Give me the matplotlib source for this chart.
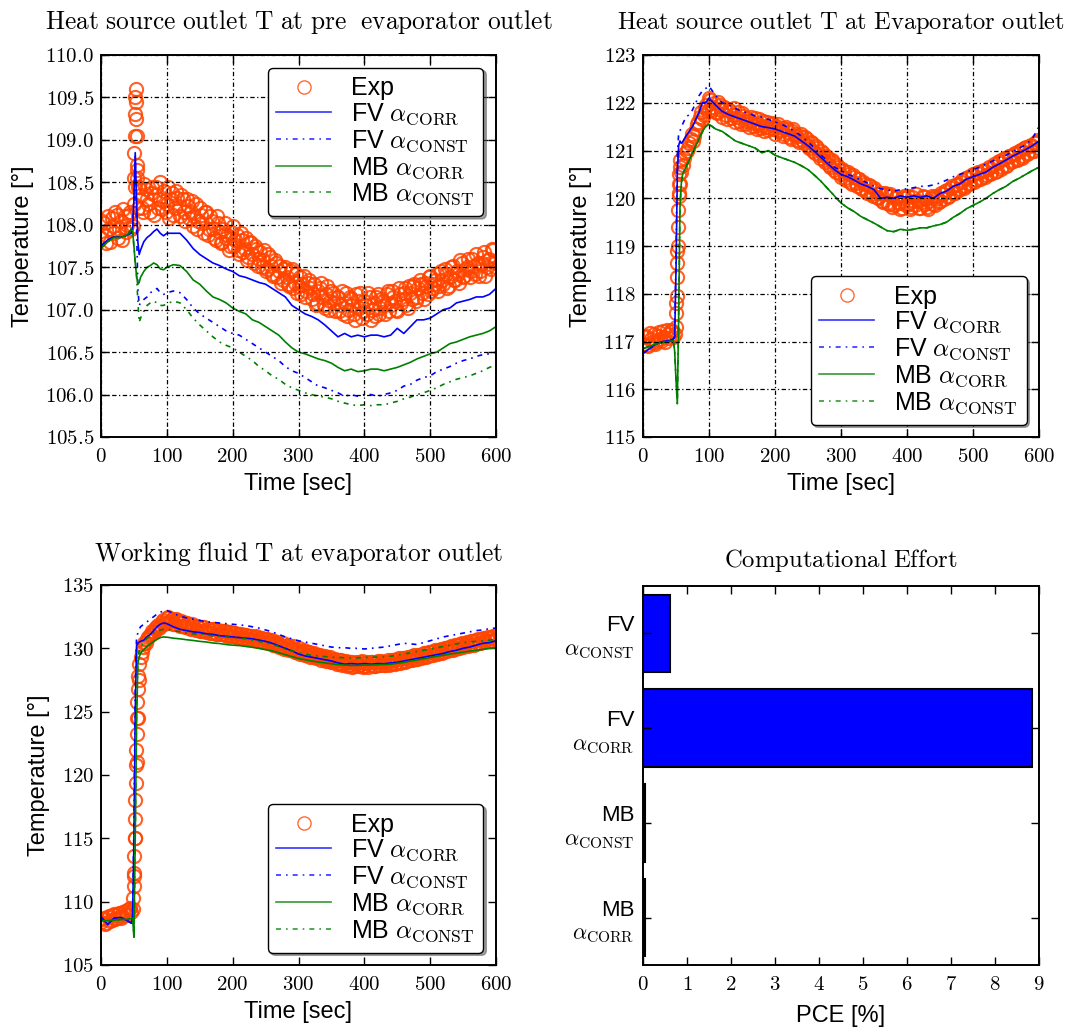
import numpy as np
import matplotlib
matplotlib.use('Agg')
import matplotlib.pyplot as plt
from matplotlib.ticker import FuncFormatter, MultipleLocator

plt.rcParams['mathtext.fontset'] = 'cm'
plt.rcParams['font.family'] = ['Liberation Sans', 'DejaVu Sans']

# ---------------- data ----------------
t_exp_a = np.arange(0, 601, 4)
t_exp_b = np.arange(2, 600, 4)
t_model = [0, 10, 20, 30, 40, 46, 48, 50, 52, 54, 56, 58, 60, 65, 70, 75, 80, 85, 90, 95] + list(range(100, 601, 10))

# Panel 1: heat source outlet T at pre-evaporator outlet
exp1_a = [107.85, 108.02, 107.78, 107.95, 108.08, 107.90, 108.12, 107.95, 107.82, 108.10,
          108.00, 108.15, 107.98, 108.45, 108.20, 108.35, 108.15, 108.42, 108.25, 108.38,
          108.12, 108.45, 108.30, 108.18, 108.40, 108.25, 108.08, 108.38, 108.20, 108.32,
          108.10, 108.30, 108.05, 108.22, 108.15, 107.98, 108.25, 108.05, 108.12, 107.90,
          108.15, 107.95, 108.05, 107.85, 108.10, 107.92, 107.80, 108.02, 107.88, 107.75,
          107.98, 107.82, 107.70, 107.90, 107.68, 107.85, 107.62, 107.78, 107.55, 107.72,
          107.60, 107.50, 107.70, 107.48, 107.62, 107.42, 107.58, 107.38, 107.52, 107.35,
          107.50, 107.30, 107.45, 107.25, 107.42, 107.28, 107.18, 107.40, 107.22, 107.35,
          107.12, 107.30, 107.08, 107.25, 107.15, 107.02, 107.28, 107.10, 107.20, 106.98,
          107.15, 107.05, 106.95, 107.20, 107.00, 107.12, 106.95, 107.18, 107.02, 106.90,
          107.10, 106.95, 107.15, 107.00, 106.92, 107.18, 107.02, 107.10, 106.95, 107.22,
          107.05, 107.15, 107.00, 107.25, 107.08, 107.20, 107.05, 107.28, 107.12, 107.30,
          107.15, 107.35, 107.20, 107.32, 107.18, 107.40, 107.25, 107.35, 107.22, 107.45,
          107.30, 107.42, 107.28, 107.50, 107.35, 107.45, 107.32, 107.55, 107.40, 107.50,
          107.38, 107.60, 107.42, 107.55, 107.45, 107.62, 107.40, 107.58, 107.48, 107.70,
          107.50]
exp1_b = [108.05, 107.88, 108.10, 107.80, 107.98, 108.15, 107.85, 108.05, 108.18, 107.92,
          108.12, 107.95, 108.25, 108.55, 108.45, 108.20, 108.48, 108.30, 108.15, 108.45,
          108.35, 108.20, 108.50, 108.28, 108.15, 108.45, 108.30, 108.12, 108.40, 108.22,
          108.35, 108.15, 108.30, 108.08, 108.28, 108.10, 107.95, 108.20, 108.02, 108.15,
          107.88, 108.10, 107.95, 107.82, 108.02, 107.78, 107.95, 107.85, 107.70, 107.92,
          107.75, 107.88, 107.65, 107.82, 107.72, 107.58, 107.80, 107.65, 107.75, 107.52,
          107.68, 107.58, 107.45, 107.65, 107.52, 107.40, 107.55, 107.45, 107.32, 107.48,
          107.38, 107.28, 107.48, 107.32, 107.20, 107.38, 107.30, 107.15, 107.32, 107.25,
          107.18, 107.05, 107.22, 107.32, 107.05, 107.18, 107.00, 107.22, 107.08, 107.15,
          106.98, 107.22, 107.08, 106.92, 107.15, 107.05, 106.88, 107.10, 107.20, 106.98,
          107.05, 107.20, 106.88, 107.08, 107.15, 106.95, 107.12, 107.05, 107.18, 106.98,
          107.22, 107.10, 106.98, 107.18, 107.12, 107.25, 107.02, 107.20, 107.28, 107.10,
          107.25, 107.30, 107.12, 107.28, 107.38, 107.22, 107.30, 107.42, 107.28, 107.35,
          107.48, 107.25, 107.38, 107.52, 107.35, 107.42, 107.58, 107.38, 107.48, 107.60,
          107.45, 107.52, 107.65, 107.40, 107.55, 107.68, 107.50, 107.60, 107.72, 107.55]
exp1_spike_t = [50, 50.5, 51, 51.5, 52, 52.5, 53, 53.5, 54, 54.5, 55, 56]
exp1_spike_v = [108.55, 108.85, 109.05, 109.30, 109.50, 109.60, 109.45, 109.25, 109.05, 108.70, 108.65, 108.45]

fv_corr1 = [107.75, 107.82, 107.86, 107.85, 107.88, 107.90, 107.95, 108.30, 108.85, 108.30,
            107.80, 107.65, 107.70, 107.80, 107.85, 107.88, 107.92, 107.95, 107.90, 107.87,
            107.90, 107.90, 107.90, 107.82, 107.72, 107.65, 107.60, 107.55, 107.52, 107.48,
            107.45, 107.40, 107.38, 107.35, 107.32, 107.30, 107.25, 107.20, 107.15, 107.05,
            107.00, 106.95, 106.92, 106.88, 106.82, 106.75, 106.68, 106.72, 106.68, 106.70,
            106.68, 106.70, 106.70, 106.68, 106.70, 106.78, 106.72, 106.80, 106.88, 106.88,
            106.90, 106.95, 107.00, 107.02, 107.08, 107.10, 107.12, 107.15, 107.15, 107.18,
            107.25]
fv_const1 = [107.75, 107.82, 107.86, 107.85, 107.88, 107.90, 107.95, 108.30, 108.80, 108.00,
             107.25, 107.05, 107.08, 107.12, 107.15, 107.20, 107.22, 107.25, 107.20, 107.18,
             107.20, 107.22, 107.20, 107.12, 107.02, 106.95, 106.90, 106.85, 106.80, 106.75,
             106.72, 106.70, 106.65, 106.60, 106.55, 106.50, 106.45, 106.40, 106.33, 106.28,
             106.25, 106.20, 106.15, 106.10, 106.08, 106.05, 106.02, 105.98, 106.00, 105.98,
             106.00, 106.00, 105.98, 106.00, 106.02, 106.05, 106.10, 106.12, 106.17, 106.20,
             106.22, 106.27, 106.30, 106.33, 106.37, 106.40, 106.42, 106.45, 106.47, 106.48,
             106.50]
mb_corr1 = [107.72, 107.80, 107.85, 107.85, 107.88, 107.95, 107.92, 107.75, 107.55, 107.40,
            107.30, 107.32, 107.38, 107.45, 107.50, 107.52, 107.55, 107.53, 107.48, 107.47,
            107.50, 107.53, 107.52, 107.45, 107.35, 107.30, 107.22, 107.15, 107.12, 107.08,
            107.02, 106.98, 106.95, 106.88, 106.85, 106.80, 106.75, 106.70, 106.62, 106.55,
            106.50, 106.48, 106.45, 106.42, 106.40, 106.37, 106.32, 106.28, 106.30, 106.27,
            106.28, 106.30, 106.30, 106.28, 106.30, 106.32, 106.35, 106.38, 106.42, 106.45,
            106.48, 106.50, 106.55, 106.60, 106.62, 106.65, 106.68, 106.70, 106.72, 106.75,
            106.80]
mb_const1 = [107.72, 107.80, 107.85, 107.85, 107.88, 107.95, 107.92, 107.75, 107.55, 107.40,
             107.10, 106.85, 106.90, 106.98, 107.05, 107.08, 107.10, 107.08, 107.05, 107.05,
             107.07, 107.10, 107.08, 107.00, 106.90, 106.82, 106.75, 106.68, 106.62, 106.58,
             106.55, 106.50, 106.45, 106.40, 106.33, 106.28, 106.22, 106.18, 106.12, 106.08,
             106.05, 106.02, 106.00, 105.98, 105.97, 105.95, 105.92, 105.90, 105.88, 105.87,
             105.88, 105.87, 105.88, 105.88, 105.90, 105.92, 105.95, 105.97, 106.00, 106.02,
             106.05, 106.08, 106.12, 106.15, 106.18, 106.20, 106.22, 106.25, 106.28, 106.32,
             106.35]

# Panel 2: heat source outlet T at evaporator outlet
exp2_a = [116.95, 117.12, 116.90, 117.05, 117.15, 116.98, 117.20, 117.02, 117.10, 117.25,
          117.08, 117.22, 117.15, 118.90, 120.30, 120.70, 120.95, 121.05, 121.25, 121.20,
          121.45, 121.60, 121.80, 121.75, 121.95, 122.10, 121.85, 122.00, 121.78, 121.95,
          121.70, 121.88, 121.65, 121.82, 121.75, 121.60, 121.80, 121.55, 121.72, 121.62,
          121.50, 121.70, 121.58, 121.45, 121.65, 121.52, 121.40, 121.60, 121.48, 121.58,
          121.35, 121.55, 121.42, 121.30, 121.50, 121.38, 121.25, 121.45, 121.30, 121.18,
          121.35, 121.15, 121.25, 121.05, 121.15, 120.95, 121.05, 120.85, 120.95, 120.75,
          120.85, 120.65, 120.75, 120.55, 120.65, 120.45, 120.58, 120.38, 120.50, 120.30,
          120.45, 120.25, 120.40, 120.20, 120.30, 120.12, 120.25, 120.05, 120.18, 120.00,
          120.10, 119.92, 120.08, 119.88, 120.05, 119.85, 120.02, 119.90, 119.80, 120.05,
          119.88, 119.78, 120.02, 119.85, 119.95, 119.80, 120.05, 119.88, 119.78, 120.00,
          119.88, 120.05, 119.92, 120.12, 119.98, 120.18, 120.05, 120.25, 120.12, 120.30,
          120.20, 120.38, 120.25, 120.45, 120.32, 120.50, 120.38, 120.55, 120.42, 120.60,
          120.48, 120.65, 120.52, 120.72, 120.58, 120.78, 120.65, 120.85, 120.70, 120.88,
          120.78, 120.95, 120.82, 121.02, 120.88, 121.08, 120.95, 121.12, 121.00, 121.18,
          121.05]
exp2_b = [117.10, 116.92, 117.18, 117.00, 116.95, 117.12, 117.05, 117.22, 116.98, 117.15,
          117.25, 117.10, 117.80, 120.10, 120.55, 120.85, 121.00, 121.15, 121.35, 121.30,
          121.55, 121.70, 121.65, 121.90, 121.82, 122.05, 121.92, 121.80, 122.02, 121.85,
          121.92, 121.75, 121.85, 121.68, 121.88, 121.70, 121.62, 121.78, 121.55, 121.68,
          121.62, 121.52, 121.68, 121.55, 121.48, 121.62, 121.50, 121.42, 121.55, 121.45,
          121.52, 121.40, 121.48, 121.35, 121.45, 121.28, 121.40, 121.35, 121.22, 121.30,
          121.20, 121.28, 121.10, 121.18, 121.00, 121.10, 120.90, 121.00, 120.80, 120.88,
          120.70, 120.80, 120.60, 120.70, 120.50, 120.62, 120.42, 120.55, 120.35, 120.48,
          120.32, 120.40, 120.22, 120.35, 120.15, 120.28, 120.08, 120.22, 120.02, 120.12,
          119.95, 120.12, 119.90, 120.08, 119.82, 120.00, 119.92, 119.78, 120.00, 119.85,
          120.05, 119.82, 119.95, 120.08, 119.80, 119.92, 120.02, 119.82, 119.95, 120.05,
          119.85, 120.00, 119.95, 120.08, 120.15, 120.02, 120.22, 120.10, 120.28, 120.18,
          120.35, 120.22, 120.42, 120.30, 120.48, 120.35, 120.52, 120.40, 120.58, 120.45,
          120.62, 120.50, 120.68, 120.55, 120.75, 120.62, 120.82, 120.68, 120.88, 120.75,
          120.92, 120.80, 120.98, 120.85, 121.05, 120.92, 121.10, 120.98, 121.15, 121.22]
exp2_ramp_t = [50, 50.5, 51, 51.5, 52, 52.5, 53, 53.5, 54, 54.5, 55, 55.5, 56]
exp2_ramp_v = [117.30, 117.60, 117.95, 118.35, 118.65, 119.00, 119.40, 119.75, 120.05, 120.30, 120.50, 120.65, 120.80]

fv_corr2 = [116.75, 116.85, 116.95, 117.00, 117.02, 117.05, 117.10, 118.50, 120.50, 121.10,
            121.20, 121.15, 121.18, 121.30, 121.40, 121.50, 121.65, 121.80, 122.00, 122.00,
            122.10, 121.95, 121.82, 121.75, 121.70, 121.65, 121.60, 121.55, 121.50, 121.48,
            121.45, 121.40, 121.35, 121.30, 121.20, 121.10, 120.98, 120.85, 120.72, 120.60,
            120.50, 120.45, 120.38, 120.30, 120.25, 120.18, 120.00, 120.02, 120.00, 120.05,
            120.02, 120.05, 120.02, 120.05, 120.00, 120.10, 120.15, 120.25, 120.30, 120.40,
            120.45, 120.50, 120.55, 120.65, 120.72, 120.80, 120.88, 120.95, 121.02, 121.10,
            121.20]
fv_const2 = [116.75, 116.85, 116.95, 117.00, 117.02, 117.05, 117.10, 118.80, 120.90, 121.35,
             121.40, 121.50, 121.55, 121.70, 121.75, 121.85, 122.00, 122.15, 122.25, 122.30,
             122.35, 122.15, 122.00, 121.95, 121.88, 121.82, 121.78, 121.72, 121.70, 121.65,
             121.60, 121.55, 121.48, 121.40, 121.30, 121.18, 121.05, 120.90, 120.78, 120.65,
             120.58, 120.50, 120.45, 120.38, 120.32, 120.25, 120.20, 120.18, 120.15, 120.18,
             120.20, 120.22, 120.25, 120.25, 120.28, 120.32, 120.38, 120.45, 120.50, 120.55,
             120.60, 120.65, 120.72, 120.78, 120.85, 120.90, 120.98, 121.05, 121.12, 121.25,
             121.50]
mb_corr2 = [116.85, 116.90, 116.95, 116.98, 117.00, 117.02, 116.80, 116.20, 115.70, 117.50,
            119.80, 120.30, 120.50, 120.65, 120.80, 120.95, 121.10, 121.25, 121.40, 121.50,
            121.55, 121.45, 121.40, 121.30, 121.20, 121.15, 121.10, 121.05, 120.95, 121.00,
            120.90, 120.85, 120.80, 120.75, 120.68, 120.60, 120.48, 120.35, 120.20, 120.05,
            119.90, 119.80, 119.72, 119.62, 119.55, 119.48, 119.40, 119.32, 119.30, 119.35,
            119.33, 119.35, 119.38, 119.38, 119.42, 119.45, 119.50, 119.60, 119.68, 119.78,
            119.85, 119.92, 120.00, 120.10, 120.18, 120.25, 120.35, 120.42, 120.50, 120.58,
            120.65]
mb_const2 = list(mb_corr2)  # lies on top of MB alpha_CORR in this panel

# Panel 3: working fluid T at evaporator outlet
exp3_a = [108.40, 108.75, 108.30, 108.85, 108.55, 109.00, 108.70, 109.10, 108.85, 109.25,
          109.05, 109.50, 109.40, 115.00, 124.50, 129.30, 130.10, 130.40, 130.90, 131.10,
          131.30, 131.70, 131.60, 132.10, 131.90, 132.40, 132.10, 132.35, 131.95, 132.20,
          131.80, 132.05, 131.65, 131.95, 131.55, 131.80, 131.45, 131.70, 131.40, 131.65,
          131.30, 131.55, 131.20, 131.50, 131.15, 131.40, 131.10, 131.35, 131.00, 131.30,
          130.95, 131.25, 130.85, 131.15, 130.80, 131.05, 130.75, 131.00, 130.65, 130.95,
          130.60, 130.85, 130.50, 130.75, 130.40, 130.65, 130.30, 130.50, 130.15, 130.40,
          130.05, 130.30, 129.90, 130.15, 129.75, 130.00, 129.65, 129.85, 129.50, 129.75,
          129.40, 129.65, 129.30, 129.50, 129.20, 129.40, 129.05, 129.30, 128.95, 129.15,
          128.85, 129.10, 128.75, 129.00, 128.65, 128.95, 128.60, 128.90, 128.65, 129.00,
          128.60, 128.95, 128.65, 128.90, 128.60, 129.00, 128.70, 128.95, 128.65, 129.05,
          128.75, 129.10, 128.85, 129.20, 128.90, 129.25, 129.00, 129.35, 129.10, 129.45,
          129.15, 129.50, 129.30, 129.65, 129.40, 129.75, 129.50, 129.85, 129.60, 129.95,
          129.70, 130.05, 129.85, 130.15, 129.95, 130.30, 130.05, 130.40, 130.15, 130.50,
          130.25, 130.60, 130.35, 130.70, 130.45, 130.80, 130.55, 130.90, 130.60, 130.95,
          130.75]
exp3_b = [108.65, 108.25, 108.80, 108.45, 108.95, 108.60, 109.05, 108.75, 109.20, 108.95,
          109.45, 109.20, 112.00, 121.00, 127.50, 129.70, 130.40, 130.70, 131.05, 131.35,
          131.55, 131.85, 131.75, 132.25, 132.00, 132.45, 132.20, 131.90, 132.30, 132.00,
          132.15, 131.75, 132.00, 131.60, 131.90, 131.50, 131.75, 131.40, 131.70, 131.35,
          131.55, 131.25, 131.50, 131.15, 131.45, 131.10, 131.40, 131.05, 131.30, 130.95,
          131.20, 130.90, 131.10, 130.85, 131.05, 130.75, 131.00, 130.70, 130.90, 130.60,
          130.80, 130.50, 130.70, 130.40, 130.55, 130.25, 130.45, 130.10, 130.30, 129.95,
          130.20, 129.85, 130.05, 129.70, 129.90, 129.55, 129.80, 129.45, 129.70, 129.35,
          129.55, 129.25, 129.45, 129.10, 129.35, 129.00, 129.25, 128.90, 129.10, 128.80,
          129.05, 128.70, 128.95, 128.60, 128.90, 128.55, 128.85, 128.60, 128.95, 128.55,
          128.85, 128.55, 128.95, 128.60, 128.90, 128.65, 129.00, 128.65, 128.95, 128.70,
          129.05, 128.80, 129.15, 128.85, 129.20, 128.95, 129.30, 129.05, 129.40, 129.15,
          129.45, 129.25, 129.60, 129.35, 129.70, 129.45, 129.80, 129.55, 129.90, 129.65,
          130.00, 129.80, 130.10, 129.90, 130.25, 130.00, 130.35, 130.10, 130.45, 130.20,
          130.55, 130.30, 130.65, 130.40, 130.75, 130.50, 130.85, 130.55, 130.90, 130.70]
exp3_ramp_t = [49, 49.5, 50, 50.5, 51, 51.5, 52, 52.5, 53, 53.5, 54, 54.5, 55, 55.5, 56, 57]
exp3_ramp_v = [110.3, 111.2, 112.3, 113.6, 115.0, 116.5, 118.0, 119.4, 120.8, 122.0, 123.2, 124.5, 125.8, 126.8, 127.8, 128.8]

fv_corr3 = [108.80, 108.20, 108.70, 108.75, 108.50, 108.30, 108.80, 115.00, 125.00, 130.20,
            130.40, 130.50, 130.55, 130.65, 130.90, 131.10, 131.40, 131.70, 131.90, 132.00,
            131.95, 131.70, 131.50, 131.40, 131.30, 131.25, 131.15, 131.10, 131.00, 130.95,
            130.90, 130.85, 130.80, 130.75, 130.65, 130.55, 130.40, 130.20, 130.00, 129.80,
            129.55, 129.40, 129.30, 129.20, 129.10, 129.00, 128.85, 128.75, 128.80, 128.75,
            128.80, 128.75, 128.80, 128.78, 128.85, 128.90, 129.00, 129.10, 129.20, 129.30,
            129.40, 129.50, 129.60, 129.75, 129.85, 130.00, 130.10, 130.25, 130.40, 130.45,
            130.60]
fv_const3 = [108.80, 108.20, 108.70, 108.75, 108.50, 108.30, 108.80, 116.00, 127.00, 130.90,
             131.20, 131.50, 131.70, 131.90, 132.10, 132.30, 132.50, 132.70, 132.85, 132.95,
             133.00, 132.75, 132.55, 132.40, 132.30, 132.20, 132.10, 132.05, 132.00, 131.95,
             131.90, 131.85, 131.80, 131.70, 131.60, 131.45, 131.30, 131.10, 130.90, 130.75,
             130.60, 130.50, 130.40, 130.30, 130.20, 130.10, 130.05, 130.05, 130.00, 130.00,
             129.95, 130.00, 130.05, 130.10, 130.20, 130.30, 130.40, 130.35, 130.30, 130.45,
             130.60, 130.75, 130.90, 131.00, 131.10, 131.20, 131.30, 131.40, 131.45, 131.55,
             131.60]
mb_corr3 = [108.50, 108.50, 108.55, 108.60, 108.60, 108.70, 108.70, 107.20, 115.00, 124.00,
            128.80, 129.30, 129.60, 129.90, 130.15, 130.35, 130.55, 130.70, 130.85, 130.90,
            130.88, 130.80, 130.75, 130.68, 130.62, 130.55, 130.50, 130.42, 130.38, 130.30,
            130.25, 130.22, 130.15, 130.08, 130.00, 129.90, 129.80, 129.65, 129.50, 129.35,
            129.20, 129.10, 129.00, 128.92, 128.85, 128.78, 128.72, 128.68, 128.65, 128.65,
            128.68, 128.68, 128.70, 128.72, 128.75, 128.82, 128.90, 129.00, 129.08, 129.18,
            129.28, 129.38, 129.45, 129.55, 129.62, 129.70, 129.78, 129.85, 129.92, 130.00,
            130.05]
mb_const3 = [108.50, 108.50, 108.55, 108.60, 108.60, 108.70, 108.70, 107.20, 115.50, 125.00,
             129.20, 129.80, 130.10, 130.50, 130.80, 131.00, 131.20, 131.35, 131.45, 131.50,
             131.50, 131.40, 131.30, 131.20, 131.15, 131.10, 131.05, 131.00, 130.95, 130.90,
             130.85, 130.80, 130.75, 130.65, 130.55, 130.45, 130.30, 130.15, 129.95, 129.80,
             129.65, 129.55, 129.45, 129.40, 129.35, 129.30, 129.28, 129.25, 129.25, 129.25,
             129.28, 129.30, 129.30, 129.32, 129.38, 129.45, 129.55, 129.65, 129.75, 129.85,
             129.95, 130.05, 130.15, 130.25, 130.35, 130.45, 130.50, 130.55, 130.60, 130.65,
             130.70]

# Panel 4: computational effort (bottom to top)
pce_labels = ['MB\n$\\alpha_{\\rm CORR}$', 'MB\n$\\alpha_{\\rm CONST}$',
              'FV\n$\\alpha_{\\rm CORR}$', 'FV\n$\\alpha_{\\rm CONST}$']
pce_values = [0.04, 0.04, 8.85, 0.62]

legend_labels = ['Exp', r'FV $\alpha_{\rm CORR}$', r'FV $\alpha_{\rm CONST}$',
                 r'MB $\alpha_{\rm CORR}$', r'MB $\alpha_{\rm CONST}$']

# ---------------- styling ----------------
EXP_COLOR = '#FF4500'
BLUE = '#0000FF'
GREEN = '#008000'
TICK_FS = 15
LABEL_FS = 17
LEG_FS = 18
DASHDOT = (0, (3, 3, 1, 3))

fig = plt.figure(figsize=(10.77, 10.27), dpi=100)
W, H = 1077.0, 1027.0


def add_ax(left, top, right, bottom):
    return fig.add_axes([left / W, 1 - bottom / H, (right - left) / W, (bottom - top) / H])


def mt_fmt(fmt):
    return FuncFormatter(lambda v, p: '$' + format(v, fmt) + '$')


def style(ax, grid=True):
    ax.tick_params(direction='in', top=True, right=True, length=6, width=1,
                   labelsize=TICK_FS)
    ax.tick_params(axis='x', pad=7)
    ax.tick_params(axis='y', pad=5)
    for s in ax.spines.values():
        s.set_linewidth(1.4)
    if grid:
        ax.grid(True, color='black', linestyle=(0, (3.5, 2, 1, 2)), linewidth=0.9)
        ax.set_axisbelow(False)


def ts_panel(ax, exp_a, exp_b, ex_t, ex_v, fc, fk, mc, mk, ylim, ystep, yfmt, title,
             title_fs, legloc, grid, tpad):
    ax.plot(list(t_exp_a) + list(t_exp_b) + ex_t, exp_a + exp_b + ex_v, 'o', mfc='none',
            mec=EXP_COLOR, mew=1.5, ms=9.5, alpha=0.85, linestyle='none',
            label=legend_labels[0])
    ax.plot(t_model, fc, '-', color=BLUE, lw=1.2, label=legend_labels[1])
    ax.plot(t_model, fk, linestyle=DASHDOT, color=BLUE, lw=1.2, label=legend_labels[2])
    ax.plot(t_model, mc, '-', color=GREEN, lw=1.2, label=legend_labels[3])
    ax.plot(t_model, mk, linestyle=DASHDOT, color=GREEN, lw=1.2, label=legend_labels[4])
    ax.set_xlim(0, 600)
    ax.set_ylim(*ylim)
    ax.xaxis.set_major_locator(MultipleLocator(100))
    ax.yaxis.set_major_locator(MultipleLocator(ystep))
    ax.xaxis.set_major_formatter(mt_fmt('.0f'))
    ax.yaxis.set_major_formatter(mt_fmt(yfmt))
    ax.set_xlabel('Time [sec]', fontsize=LABEL_FS, labelpad=5)
    ax.set_ylabel('Temperature [°]', fontsize=LABEL_FS, labelpad=8)
    ax.set_title(title, fontsize=title_fs, pad=tpad)
    style(ax, grid)
    leg = ax.legend(loc=legloc, fontsize=LEG_FS, numpoints=1, fancybox=True, shadow=True,
                    framealpha=1, edgecolor='black', labelspacing=0.05, handlelength=2.2,
                    handletextpad=0.8, borderpad=0.35)
    leg.set_zorder(5)
    for lh in leg.legend_handles:
        lh.set_alpha(0.8)
    leg.legend_handles[0].set_markeredgewidth(1.0)
    leg.get_frame().set_linewidth(1.0)


ax1 = add_ax(101, 55, 496, 437)
ts_panel(ax1, exp1_a, exp1_b, exp1_spike_t, exp1_spike_v, fv_corr1, fv_const1, mb_corr1,
         mb_const1, (105.5, 110.0), 0.5, '.1f',
         r'$\mathrm{Heat\ source\ outlet\ T\ at\ pre\ \ evaporator\ outlet}$', 18.3,
         'upper right', True, 19)

ax2 = add_ax(643, 55, 1039, 437)
ts_panel(ax2, exp2_a, exp2_b, exp2_ramp_t, exp2_ramp_v, fv_corr2, fv_const2, mb_corr2,
         mb_const2, (115, 123), 1, '.0f',
         r'$\mathrm{Heat\ source\ outlet\ T\ at\ Evaporator\ outlet}$', 17.7,
         'lower right', True, 19)

ax3 = add_ax(101, 585, 496, 965)
ts_panel(ax3, exp3_a, exp3_b, exp3_ramp_t, exp3_ramp_v, fv_corr3, fv_const3, mb_corr3,
         mb_const3, (105, 135), 5, '.0f',
         r'$\mathrm{Working\ fluid\ T\ at\ evaporator\ outlet}$', 18.3,
         'lower right', False, 17)

ax4 = add_ax(643, 586, 1039, 965)
ypos = np.arange(len(pce_values))
ax4.barh(ypos, pce_values, height=0.82, color=BLUE, edgecolor='black', linewidth=1.5)
ax4.set_xlim(0, 9)
ax4.set_ylim(-0.5, 3.5)
ax4.xaxis.set_major_locator(MultipleLocator(1))
ax4.xaxis.set_major_formatter(mt_fmt('.0f'))
ax4.set_yticks(ypos)
ax4.set_yticklabels(pce_labels, fontsize=16)
ax4.set_xlabel('PCE [%]', fontsize=LABEL_FS, labelpad=8)
ax4.set_title(r'$\mathrm{Computational\ Effort}$', fontsize=17.8, pad=14)
style(ax4, grid=False)
ax4.tick_params(axis='y', labelsize=16, pad=6)

fig.savefig('out.png', dpi=100)
